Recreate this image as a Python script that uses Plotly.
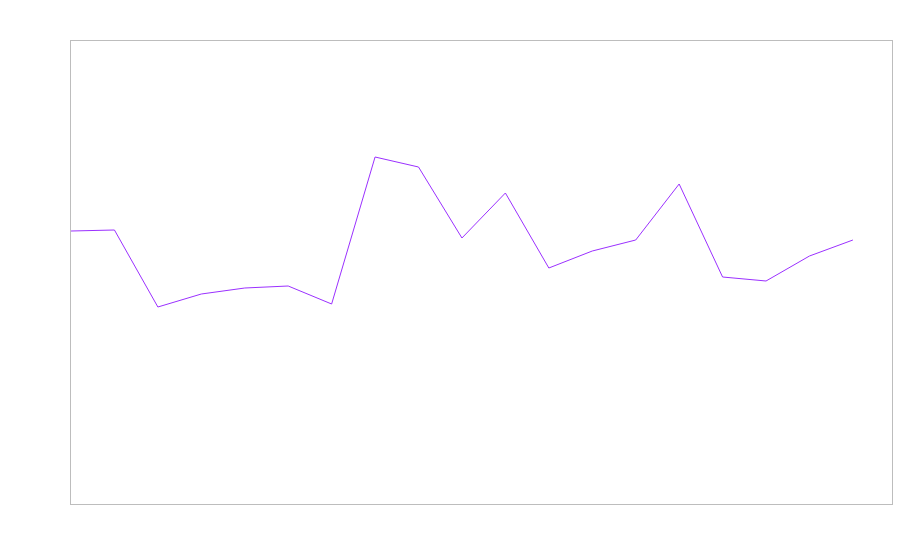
import plotly.graph_objects as go

# values (arbitrary units, no axis labels shown)
steps = list(range(19))
values = [273, 274, 197, 210, 216, 218, 200, 347, 337, 266, 311,
          236, 253, 264, 320, 227, 223, 248, 264]

fig = go.Figure()
fig.add_trace(go.Scatter(x=steps, y=values, mode="lines",
                         line=dict(color="#9b30ff", width=1), showlegend=False))

fig.update_layout(
    width=900, height=560,
    margin=dict(l=71, r=8, t=41, b=56),
    paper_bgcolor="white", plot_bgcolor="white",
)
fig.update_xaxes(range=[0, 18.9], showgrid=False, zeroline=False, showticklabels=False,
                 showline=True, linecolor="#bdbdbd", linewidth=1, mirror=True)
fig.update_yaxes(range=[0, 463], showgrid=False, zeroline=False, showticklabels=False,
                 showline=True, linecolor="#bdbdbd", linewidth=1, mirror=True)

# drop the default body margin so the figure sits at the window's corner
fig.write_html("out.html", config={"displayModeBar": False},
               post_script="document.body.style.margin='0';document.body.style.overflow='hidden';")
